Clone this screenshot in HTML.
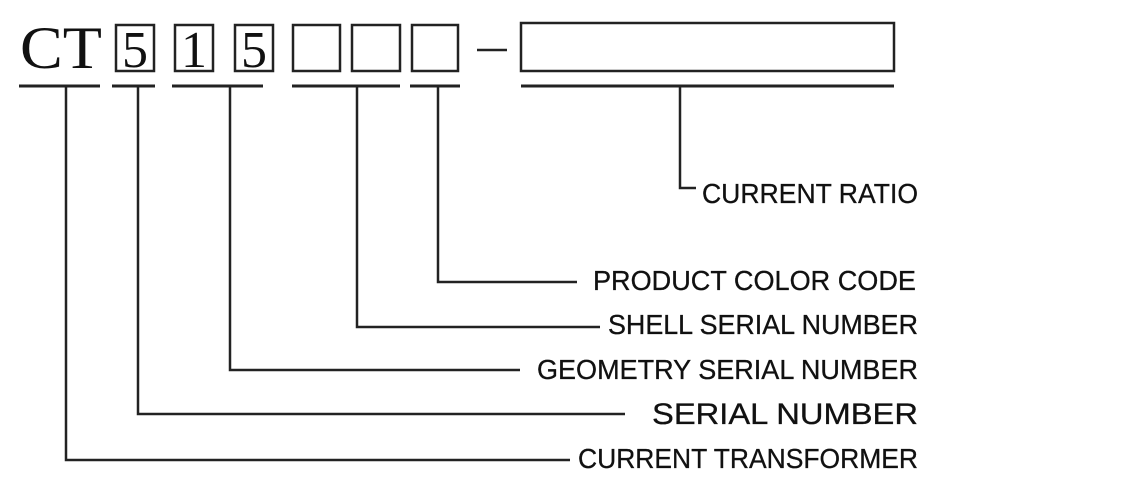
<!DOCTYPE html>
<html><head><style>html,body{margin:0;padding:0;background:#fff;}svg{display:block}</style></head>
<body>
<svg width="1132" height="496" viewBox="0 0 1132 496" xmlns="http://www.w3.org/2000/svg">
<g fill="none" stroke="#222" stroke-width="2.5">
<rect x="116" y="25" width="38" height="46"/>
<rect x="175" y="25" width="38" height="46"/>
<rect x="235" y="25" width="38" height="46"/>
<rect x="293" y="25" width="47" height="46"/>
<rect x="352" y="25" width="48" height="46"/>
<rect x="412" y="25" width="46" height="46"/>
<rect x="521" y="23" width="373" height="48"/>
<line x1="477" y1="50" x2="507" y2="50"/>
</g>
<g stroke="#222" stroke-width="3">
<line x1="19" y1="86" x2="100" y2="86"/>
<line x1="112" y1="86" x2="155" y2="86"/>
<line x1="172" y1="86" x2="263" y2="86"/>
<line x1="292" y1="86" x2="400" y2="86"/>
<line x1="410" y1="86" x2="460" y2="86"/>
<line x1="521" y1="86" x2="894" y2="86"/>
</g>
<g fill="none" stroke="#222" stroke-width="2.5">
<polyline points="66,86 66,460 570,460"/>
<polyline points="138,86 138,414 625,414"/>
<polyline points="230,86 230,370 520,370"/>
<polyline points="357,86 357,327 600,327"/>
<polyline points="438,86 438,282 577,282"/>
<polyline points="680,86 680,188 696,188"/>
</g>
<g font-family="Liberation Serif, serif" fill="#111">
<text x="20" y="68" font-size="60" textLength="82" lengthAdjust="spacingAndGlyphs">CT</text>
<text x="135" y="67" font-size="52" text-anchor="middle">5</text>
<text x="194" y="67" font-size="52" text-anchor="middle">1</text>
<text x="254" y="67" font-size="52" text-anchor="middle">5</text>
</g>
<g font-family="Liberation Sans, sans-serif" font-size="28" fill="#111" stroke="#111" stroke-width="0.3">
<text x="702" y="203" textLength="216" lengthAdjust="spacingAndGlyphs">CURRENT RATIO</text>
<text x="593" y="290" textLength="323" lengthAdjust="spacingAndGlyphs">PRODUCT COLOR CODE</text>
<text x="608" y="334" textLength="310" lengthAdjust="spacingAndGlyphs">SHELL SERIAL NUMBER</text>
<text x="537" y="379" textLength="381" lengthAdjust="spacingAndGlyphs">GEOMETRY SERIAL NUMBER</text>
<text x="652" y="424" font-size="30" textLength="266" lengthAdjust="spacingAndGlyphs">SERIAL NUMBER</text>
<text x="578" y="468" textLength="340" lengthAdjust="spacingAndGlyphs">CURRENT TRANSFORMER</text>
</g>
</svg>
</body></html>
